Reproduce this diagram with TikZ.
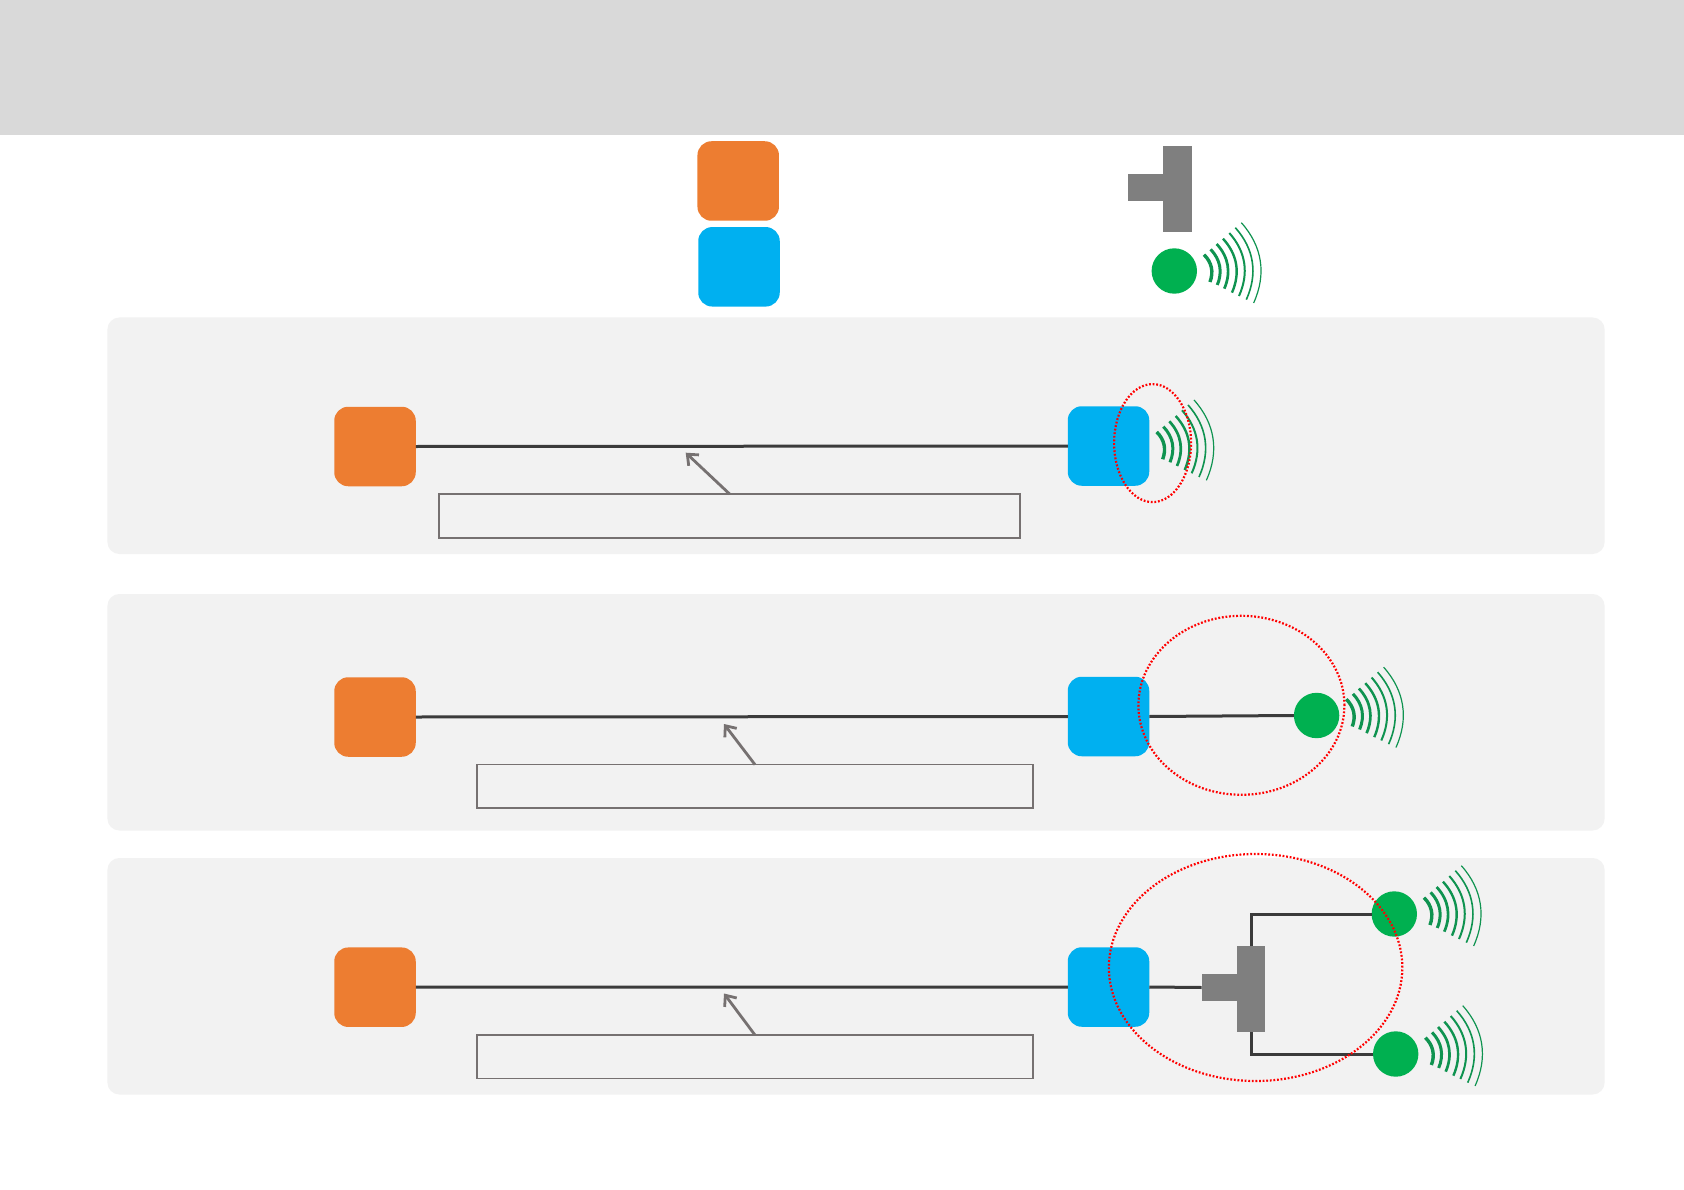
\documentclass[tikz,border=0pt]{standalone}
\usetikzlibrary{arrows.meta,shapes.geometric}
\definecolor{headgray}{HTML}{D9D9D9}
\definecolor{panelgray}{HTML}{F2F2F2}
\definecolor{orangebox}{HTML}{ED7D31}
\definecolor{bluebox}{HTML}{00B0F0}
\definecolor{teegray}{HTML}{7F7F7F}
\definecolor{dotgreen}{HTML}{00B050}
\definecolor{wavegreen}{HTML}{0F9350}
\definecolor{linedark}{HTML}{3B3B3B}
\definecolor{notegray}{HTML}{767171}
\tikzset{
  panel/.style={fill=panelgray,rounded corners=12pt},
  obox/.style={rectangle,fill=orangebox,rounded corners=14pt,minimum width=81.5pt,minimum height=79.5pt,inner sep=0pt,outer sep=0pt},
  bbox/.style={rectangle,fill=bluebox,rounded corners=14pt,minimum width=81.5pt,minimum height=79.5pt,inner sep=0pt,outer sep=0pt},
  teebar/.style={rectangle,fill=teegray,minimum width=28.5pt,minimum height=86pt,inner sep=0pt,outer sep=0pt},
  teestem/.style={rectangle,fill=teegray,minimum width=36pt,minimum height=27pt,inner sep=0pt,outer sep=0pt},
  dot/.style={circle,fill=dotgreen,minimum size=45.4pt,inner sep=0pt,outer sep=0pt},
  wire/.style={draw=linedark,line width=3pt},
  notebox/.style={rectangle,draw=notegray,line width=1.6pt,inner sep=0pt,outer sep=0pt},
  notearrow/.style={draw=notegray,line width=2.8pt,-{Straight Barb[length=9pt,width=15pt,line width=2.8pt]}},
  zone/.style={ellipse,draw=red,line width=2.2pt,dash pattern=on 1.8pt off 1.8pt,inner sep=0pt,outer sep=0pt},
  waves/.pic={
    \foreach \a/\b/\c/\d/\w in {89/-49/107/33/3.4,109/-65/129/42/3.0,127/-81/150/53/2.7,146/-97/173/65/2.4,165/-114/194/75/2.0,183/-130/216/86/1.6,201/-145/238/96/1.2}
      \draw[wavegreen,line width=\w pt] (\a/3,\b/3) to[bend left=33] (\c/3,\d/3);
  }
}
\begin{document}
\begin{tikzpicture}[x=1pt,y=-1pt]
\useasboundingbox (0,0) rectangle (1684,1190);
\fill[white] (0,0) rectangle (1684,1190);
\fill[headgray] (0,0) rectangle (1684,134.7);
\fill[panel] (107.4,317.5) rectangle (1604.6,554);
\fill[panel] (107.4,594) rectangle (1604.6,830.5);
\fill[panel] (107.4,858) rectangle (1604.6,1094.5);
% legend
\node[obox] (legO) at (738.2,181) {};
\node[bbox] (legB) at (739,266.8) {};
\node[teebar,minimum width=29pt] (legBar) at (1177.5,189) {};
\node[teestem,minimum width=36pt] (legStem) at (1146,187.5) {};
\node[dot] (legD) at (1174.3,271) {};
\pic at (legD.center) {waves};
% panel 1
\node[obox] (o1) at (375,446.5) {};
\node[bbox] (b1) at (1108.5,446) {};
\coordinate (w1) at (1127,448.3);
\draw[wire] (o1.east) -- (b1.west);
\pic at (w1) {waves};
\node[notebox,minimum width=581pt,minimum height=44pt] (n1) at (729.6,516) {};
\coordinate (t1) at (685.7,452.7);
\draw[notearrow] (n1.north) -- (t1);
\node[zone,minimum width=77pt,minimum height=118pt] (z1) at (1152.6,443.1) {};
% panel 2
\node[obox] (o2) at (375,717) {};
\node[bbox] (b2) at (1108.5,716.5) {};
\node[dot] (d2) at (1316.6,715.5) {};
\draw[wire] (o2.east) -- (b2.west);
\draw[wire] (b2.east) -- (d2.west);
\pic at (d2.center) {waves};
\node[notebox,minimum width=556pt,minimum height=43.5pt] (n2) at (755,786.4) {};
\coordinate (t2) at (724,724);
\draw[notearrow] (n2.north) -- (t2);
\node[zone,minimum width=206pt,minimum height=179pt] (z2) at (1241.4,705.3) {};
% panel 3
\node[obox] (o3) at (375,987.2) {};
\node[bbox] (b3) at (1108.5,987) {};
\node[teebar] (bar3) at (1251,989) {};
\node[teestem] (stem3) at (1219.5,987.5) {};
\node[dot] (d3a) at (1394.3,914) {};
\node[dot] (d3b) at (1395.7,1054) {};
\draw[wire] (o3.east) -- (b3.west);
\draw[wire] (b3.east) -- (stem3.west);
\draw[wire] (bar3.north) |- (d3a.west);
\draw[wire] (bar3.south) |- (d3b.west);
\pic at (d3a.center) {waves};
\pic at (d3b.center) {waves};
\node[notebox,minimum width=556pt,minimum height=43.5pt] (n3) at (755,1056.8) {};
\coordinate (t3) at (724,993.5);
\draw[notearrow] (n3.north) -- (t3);
\node[zone,minimum width=293.5pt,minimum height=227pt] (z3) at (1255.6,967.5) {};
\end{tikzpicture}
\end{document}
